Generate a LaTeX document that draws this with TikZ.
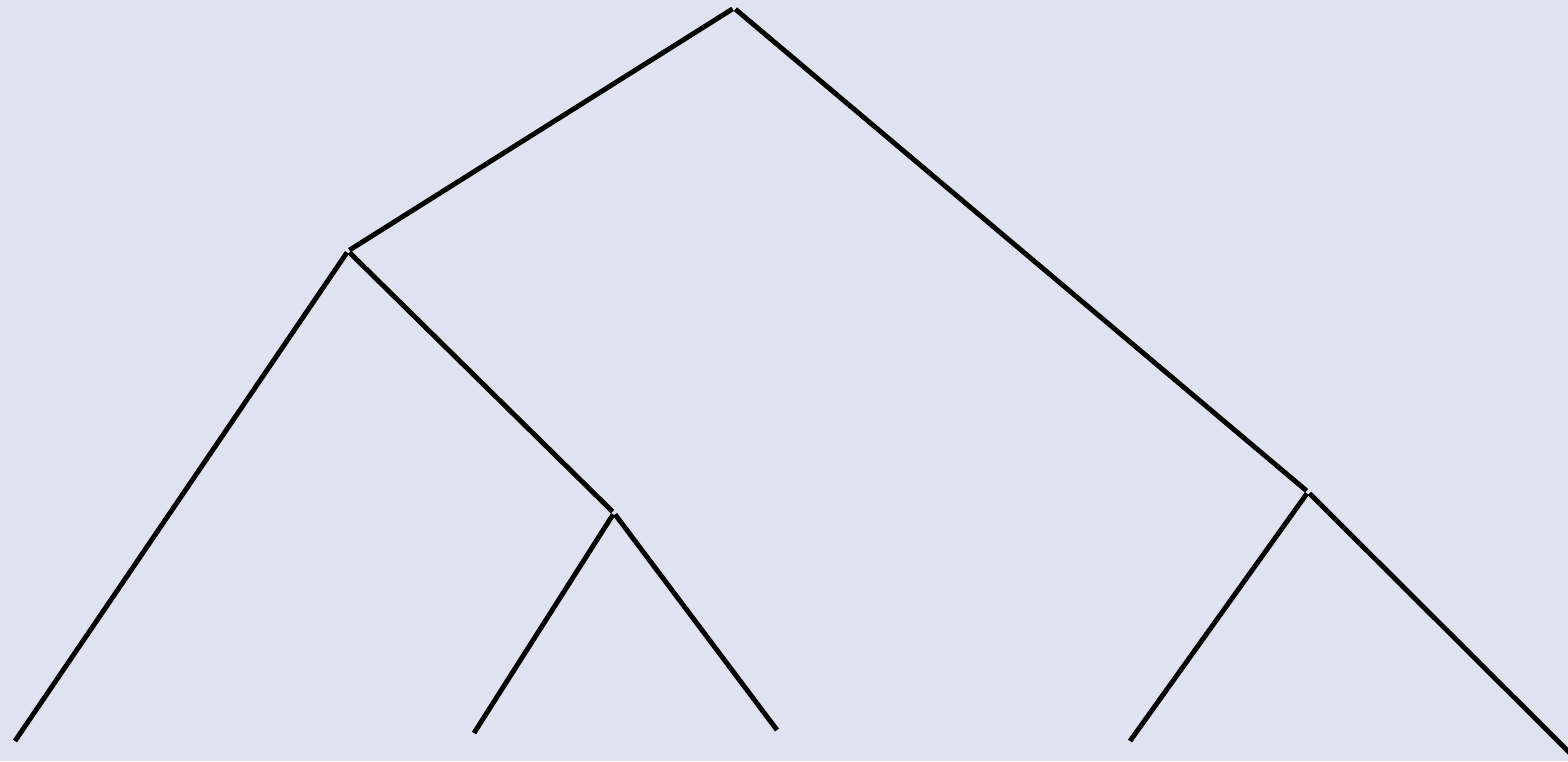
\documentclass[tikz,border=0pt]{standalone}
\usepackage{amsmath,amssymb,tikz}
\definecolor{fond}{RGB}{223,227,239}

\begin{document}
\begin{tikzpicture}[line width=1.4pt,
  noeud/.style={inner sep=0.4pt, outer sep=0pt, minimum size=0pt},%Petit espace aux ramifications
  feuille/.style={inner sep=0pt, outer sep=0pt, minimum size=0pt}]%Extremites des branches
  \fill[fond] (0,0) rectangle (15.68,7.61);
  \useasboundingbox (0,0) rectangle (15.68,7.61);
  \node[noeud] (r) at (7.34,7.53) {};
  \node[noeud] (a) at (3.48,5.10) {};
  \node[noeud] (b) at (13.08,2.69) {};
  \node[noeud] (c) at (6.14,2.48) {};
  \node[feuille] (f1) at (0.15,0.20) {};
  \node[feuille] (f2) at (4.74,0.28) {};
  \node[feuille] (f3) at (7.77,0.31) {};
  \node[feuille] (f4) at (11.30,0.20) {};
  \node[feuille] (f5) at (15.80,-0.02) {};
  \draw (r) -- (a);% 1ere branche
  \draw (r) -- (b);% 2eme branche
  \draw (a) -- (f1);
  \draw (a) -- (c);
  \draw (c) -- (f2);
  \draw (c) -- (f3);
  \draw (b) -- (f4);
  \draw (b) -- (f5);
\end{tikzpicture}
\end{document}
